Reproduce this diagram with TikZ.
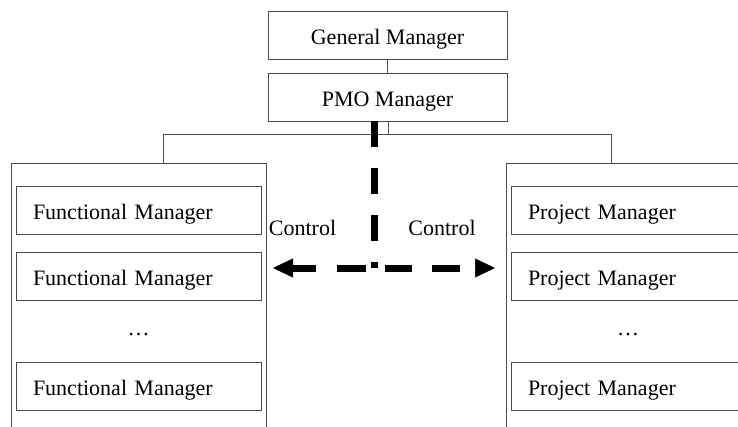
\documentclass[tikz,border=0pt]{standalone}
\usepackage{fontspec}
\setmainfont{Liberation Serif}
\usetikzlibrary{arrows.meta}
\begin{document}
\begin{tikzpicture}[x=1pt,y=-1pt,
  box/.style={draw=black!70, line width=0.9pt, minimum height=48pt, inner sep=0pt,
    text height=18pt, text depth=0pt, font=\fontsize{22}{26}\selectfont},
  wide/.style={box, minimum width=239pt},
  item/.style={box, text width=211pt, inner xsep=17pt, align=left, minimum width=245pt},
  group/.style={draw=black!70, line width=0.9pt, minimum width=255pt, minimum height=280pt, inner sep=0pt},
  thin/.style={draw=black!70, line width=0.9pt},
  ctrl/.style={line width=7pt, line cap=butt},
  tip/.style={-{Triangle[length=20pt,width=19pt,line width=0.5pt]}},
  lbl/.style={font=\fontsize{22}{26}\selectfont, inner sep=0pt, anchor=base}
]
\useasboundingbox (0,0) rectangle (738,426);
\clip (0,0) rectangle (738,426);

% top boxes
\node[wide] (GM) at (387.5,35.5) {General Manager};
\node[wide] (PMO) at (387.5,97) {PMO Manager};

% groups
\node[group] (lg) at (138.5,303) {};
\node[group] (rg) at (633.5,303) {};

% functional managers
\node[item] (f1) at (138.5,210) {Functional Manager};
\node[item] (f2) at (138.5,276) {Functional Manager};
\node[lbl] (fd) at (138.5,335) {…};
\node[item] (f3) at (138.5,386) {Functional Manager};

% project managers
\node[item] (p1) at (633.5,210) {Project Manager};
\node[item] (p2) at (633.5,276) {Project Manager};
\node[lbl] (pd) at (628,335) {…};
\node[item] (p3) at (633.5,386) {Project Manager};

% thin connectors
\coordinate (bus) at (388,134);
\coordinate (busL) at (163,134);
\coordinate (busR) at (611,134);
\draw[thin] (GM.south) -- (PMO.north);
\draw[thin] (PMO.south -| bus) -- (bus);
\draw[thin] (busL) -- (busR);
\draw[thin] (busL) -- (busL |- lg.north);
\draw[thin] (busR) -- (busR |- rg.north);

% control labels
\node[lbl] (cl) at (302.5,235) {Control};
\node[lbl] (cr) at (442,235) {Control};

% thick dashed control lines
\coordinate (j) at (374,268);
\coordinate (al) at (273,268);
\coordinate (ar) at (495,268);
\draw[ctrl, dash pattern=on 26pt off 21pt] (PMO.south -| j) -- (j);
\draw[ctrl, tip, dash pattern=on 0pt off 8pt on 29pt off 21pt on 80pt] (j) -- (al);
\draw[ctrl, tip, dash pattern=on 0pt off 11pt on 27pt off 20pt on 28pt off 40pt] (j) -- (ar);
\end{tikzpicture}
\end{document}
